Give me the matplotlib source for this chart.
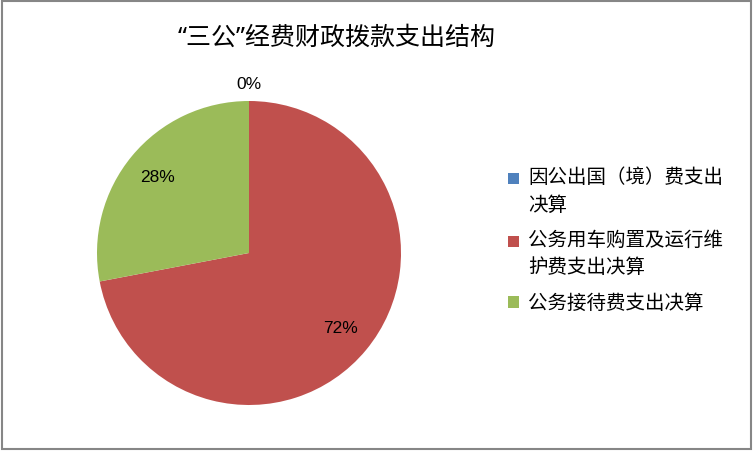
import matplotlib
matplotlib.use("Agg")
import matplotlib.pyplot as plt
from matplotlib.patches import Rectangle
from matplotlib.legend_handler import HandlerPatch
import numpy as np

plt.rcParams['font.family'] = ['Noto Sans CJK SC', 'DejaVu Sans']

title = "“三公”经费财政拨款支出结构"
categories = ["因公出国（境）费支出\n决算", "公务用车购置及运行维\n护费支出决算", "公务接待费支出决算"]
values = [0, 72, 28]
pct_labels = ["0%", "72%", "28%"]
colors = ["#4F81BD", "#C0504D", "#9BBB59"]

fig = plt.figure(figsize=(7.53, 4.51), dpi=100)
fig.patches.append(Rectangle((0.002, 0.004), 0.995, 0.993, transform=fig.transFigure,
                             fill=False, edgecolor="#868686", linewidth=1.5))

ax = fig.add_axes([97/753, 46/451, 304/753, 304/451])
wedges, texts = ax.pie(values, colors=colors, startangle=90, counterclock=False,
                       radius=1.0, wedgeprops=dict(linewidth=0))
ax.set_xlim(-1, 1)
ax.set_ylim(-1, 1)
ax.set_aspect('equal')

total = sum(values)
angle = 90.0
for v, lab in zip(values, pct_labels):
    span = 360.0 * v / total
    mid = np.deg2rad(angle - span / 2)
    dist = 1.11 if v == 0 else 0.78
    ax.text(dist * np.cos(mid), dist * np.sin(mid), lab, ha='center', va='center',
            fontsize=12.5, color='#000000', clip_on=False, family=['Liberation Sans', 'DejaVu Sans'])
    angle -= span

fig.text(337/753, 1 - 38/451, title, ha='center', va='center', fontsize=18, color='black',
         family=['Noto Sans', 'Noto Sans CJK SC'])

FS = 14
LS = 1.42


def make_handler(nlines):
    shift = (nlines - 1) * FS * LS / 2.0

    def pf(legend, orig_handle, xdescent, ydescent, width, height, fontsize):
        s = min(width, height)
        return Rectangle((-xdescent, -ydescent + (height - s) / 2 + shift), s, s)
    return HandlerPatch(patch_func=pf)


hmap = {w: make_handler(lab.count("\n") + 1) for w, lab in zip(wedges, categories)}

leg = fig.legend(wedges, categories, loc='upper left', bbox_to_anchor=(500/753, 1 - 159/451),
                 frameon=False, fontsize=FS, handlelength=0.6, handleheight=0.6,
                 handletextpad=0.45, labelspacing=0.73, borderaxespad=0, handler_map=hmap)
for t in leg.get_texts():
    t.set_linespacing(LS)

fig.savefig("out.png", dpi=100)
